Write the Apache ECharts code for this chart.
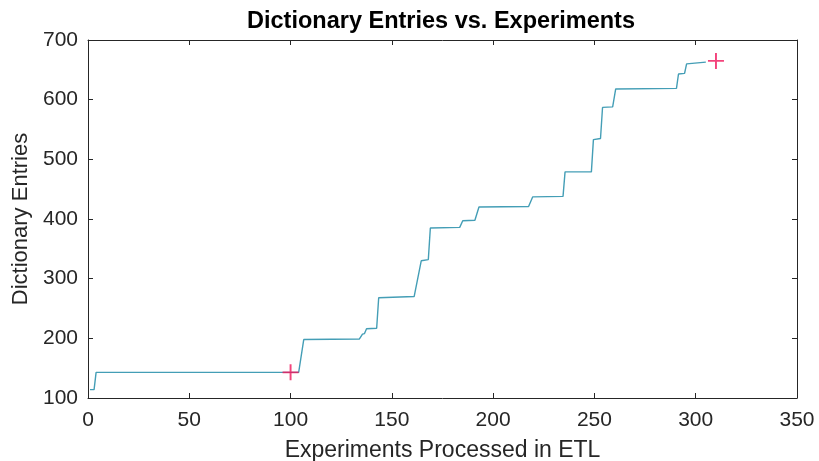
<!DOCTYPE html>
<html><head><meta charset="utf-8">
<script src="https://cdn.jsdelivr.net/npm/echarts@6/dist/echarts.min.js"></script>
<style>html,body{margin:0;padding:0;background:#fff}#c{width:819px;height:461px}</style>
</head><body><div id="c"></div>
<script>
const stepX = [1,3,4,104,106.5,134,135.5,136.5,137.5,142.5,143.5,161,164.5,168,169,183.5,185,191,193,217.5,219.5,234.5,235.5,248.5,249.5,253,254,259,260.5,290.5,291.5,294.5,295.5,305];
const stepY = [114,114,143,143,198,199,207,208,216,217,268,270,330,332,385,386,397,398,420,421,437,438,479,479,533,535,587,588,618,619,643,644,660,663];
const markX = [100,310];
const markY = [143,665];
const xTicks = [0,50,100,150,200,250,300,350];
const yTicks = [100,200,300,400,500,600,700];
const titleText = 'Dictionary Entries vs. Experiments';
const xName = 'Experiments Processed in ETL';
const yName = 'Dictionary Entries';

const font = 'Liberation Sans, Arial, Helvetica, sans-serif';
const axisCol = '#262626';
const chart = echarts.init(document.getElementById('c'), null, {renderer:'canvas'});
const baseX = {type:'value', min:xTicks[0], max:xTicks[xTicks.length-1], interval:50,
  axisLine:{show:true, onZero:false, lineStyle:{color:axisCol, width:1}},
  axisTick:{show:true, inside:true, length:5, lineStyle:{color:axisCol}},
  splitLine:{show:false}};
const baseY = {type:'value', min:yTicks[0], max:yTicks[yTicks.length-1], interval:100,
  axisLine:{show:true, onZero:false, lineStyle:{color:axisCol, width:1}},
  axisTick:{show:true, inside:true, length:5, lineStyle:{color:axisCol}},
  splitLine:{show:false}};
chart.setOption({
  animation:false,
  backgroundColor:'#fff',
  title:{text:titleText, left:436, top:5, textAlign:'center',
    textStyle:{fontFamily:font, fontSize:23.5, fontWeight:'bold', color:'#000'}},
  grid:{left:88, right:22, top:40, bottom:63, containLabel:false, outerBoundsMode:'none'},
  xAxis:[
    Object.assign({}, baseX, {position:'bottom', name:xName, nameLocation:'middle', nameGap:41,
      nameTextStyle:{fontFamily:font, fontSize:23, color:'#262626'},
      axisLabel:{fontFamily:font, fontSize:21, color:'#262626', margin:12}}),
    Object.assign({}, baseX, {position:'top', axisLabel:{show:false}})
  ],
  yAxis:[
    Object.assign({}, baseY, {position:'left', name:yName, nameLocation:'middle', nameGap:56,
      nameTextStyle:{fontFamily:font, fontSize:22, color:'#262626'},
      axisLabel:{fontFamily:font, fontSize:21, color:'#262626', margin:10}}),
    Object.assign({}, baseY, {position:'right', axisLabel:{show:false}})
  ],
  series:[
    {type:'line', xAxisIndex:0, yAxisIndex:0, data:stepX.map((x,i)=>[x, stepY[i]]),
      showSymbol:false, lineStyle:{color:'#449eb6', width:1.4}, z:2},
    {type:'scatter', xAxisIndex:0, yAxisIndex:0, data:markX.map((x,i)=>[x, markY[i]]),
      symbol:'path://M-1.2,-10L1.2,-10L1.2,-1.2L10,-1.2L10,1.2L1.2,1.2L1.2,10L-1.2,10L-1.2,1.2L-10,1.2L-10,-1.2L-1.2,-1.2Z',
      symbolSize:16, itemStyle:{color:'#f0145a'}, z:3}
  ]
});
</script></body></html>
